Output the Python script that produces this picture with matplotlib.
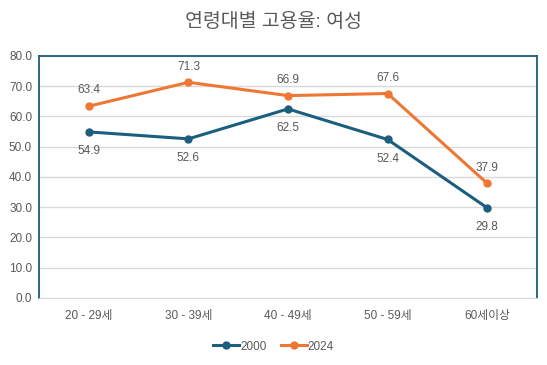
import matplotlib.pyplot as plt

plt.rcParams['font.family'] = ['Liberation Sans', 'Noto Sans CJK KR']

ages = ["20 - 29세", "30 - 39세", "40 - 49세", "50 - 59세", "60세이상"]
rate_2000 = [54.9, 52.6, 62.5, 52.4, 29.8]
rate_2024 = [63.4, 71.3, 66.9, 67.6, 37.9]

blue = "#1B5E7E"
orange = "#EE7733"
gray = "#595959"

fig = plt.figure(figsize=(5.47, 3.65), dpi=100)
ax = fig.add_axes([0.0713, 0.1836, 0.9104, 0.663])

x = list(range(len(ages)))
ax.plot(x, rate_2000, color=blue, lw=2.2, marker="o", ms=5, label="2000", zorder=3)
ax.plot(x, rate_2024, color=orange, lw=2.2, marker="o", ms=5, label="2024", zorder=3)

for i in x:
    ax.annotate(f"{rate_2000[i]:.1f}", (i, rate_2000[i]), xytext=(0, -9.5),
                textcoords="offset points", ha="center", va="top", fontsize=8.5, color=gray)
    ax.annotate(f"{rate_2024[i]:.1f}", (i, rate_2024[i]), xytext=(0, 7),
                textcoords="offset points", ha="center", va="bottom", fontsize=8.5, color=gray)

ax.set_xlim(-0.5, 4.5)
ax.set_ylim(0, 80)
ax.set_yticks(range(0, 81, 10))
ax.set_yticklabels([f"{v:.1f}" for v in range(0, 81, 10)])
ax.set_xticks(x)
ax.set_xticklabels(ages)
ax.tick_params(length=0, labelsize=8.5, colors=gray)
ax.tick_params(axis="x", pad=9)
ax.tick_params(axis="y", pad=5)
ax.grid(axis="y", color="#D9D9D9", lw=1)
ax.set_axisbelow(True)

for side in ["left", "top", "right"]:
    ax.spines[side].set_color(blue)
    ax.spines[side].set_linewidth(1.3)
ax.spines["bottom"].set_color("#D9D9D9")

fig.suptitle("연령대별 고용율: 여성", y=0.965, fontsize=14, color=gray)
fig.legend(loc="lower center", bbox_to_anchor=(0.5, 0.005), ncol=2, frameon=False,
           fontsize=8.5, labelcolor=gray, handlelength=2.2, handletextpad=0.1, columnspacing=1.2)

fig.savefig("out.png", dpi=100)
